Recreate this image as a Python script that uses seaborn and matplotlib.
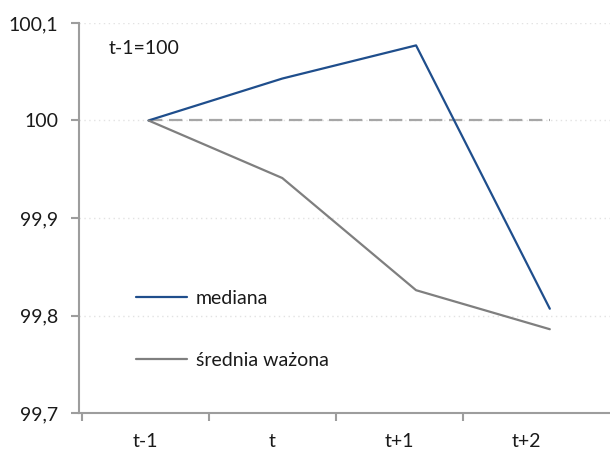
import matplotlib
matplotlib.use("Agg")
import matplotlib.pyplot as plt
import seaborn as sns
import pandas as pd

# Okresy i wartości indeksu (t-1 = 100)
periods = ["t-1", "t", "t+1", "t+2"]
mediana = [100.0, 100.043, 100.077, 99.807]
srednia_wazona = [100.0, 99.941, 99.826, 99.786]
baseline = [100.0, 100.0, 100.0, 100.0]
y_ticks = [99.7, 99.8, 99.9, 100.0, 100.1]
y_tick_labels = ["99,7", "99,8", "99,9", "100", "100,1"]

sns.set_theme(style="white")
plt.rcParams["font.family"] = ["Lato", "DejaVu Sans"]

blue = "#1f4e8c"
grey = "#7f7f7f"
dash_grey = "#a6a6a6"
spine_grey = "#9d9d9d"
text_col = "#1a1a1a"
fs = 14

fig = plt.figure(figsize=(6.1, 4.5), dpi=100)
ax = fig.add_axes([0.1295, 0.082, 0.8705, 0.867])

# kategoria na osi X: etykiety pośrodku, znaczniki na granicach
ax.set_xlim(-0.52, 3.66)
ax.set_xticks(range(len(periods)))
ax.set_xticklabels(periods)
ax.set_xticks([-0.5, 0.5, 1.5, 2.5], minor=True)
ax.tick_params(axis="x", which="major", length=0, pad=14, labelsize=fs, labelcolor=text_col)
ax.tick_params(axis="x", which="minor", length=6, width=1.5, color=spine_grey, direction="out", bottom=True)

ax.set_ylim(99.7, 100.1)
ax.set_yticks(y_ticks)
ax.set_yticklabels(y_tick_labels)
ax.tick_params(axis="y", length=6, width=1.5, color=spine_grey, direction="out", left=True,
               labelsize=fs, labelcolor=text_col, pad=9)
ax.yaxis.grid(True, linestyle=(0, (1, 2.5)), color="#e2e2e2", linewidth=1.0)
ax.set_axisbelow(True)

for side in ["top", "right"]:
    ax.spines[side].set_visible(False)
for side in ["left", "bottom"]:
    ax.spines[side].set_color(spine_grey)
    ax.spines[side].set_linewidth(1.5)

# osobna skala X dla linii
ax2 = ax.twiny()
ax2.set_xlim(-0.52, 3.45)
ax2.set_ylim(99.7, 100.1)
ax2.axis("off")

df = pd.DataFrame({"x": range(len(periods)), "mediana": mediana,
                   "srednia": srednia_wazona, "base": baseline})

sns.lineplot(data=df, x="x", y="base", ax=ax2, color=dash_grey, linewidth=1.6,
             linestyle=(0, (6, 3)), legend=False)
sns.lineplot(data=df, x="x", y="mediana", ax=ax2, color=blue, linewidth=1.6,
             label="mediana")
sns.lineplot(data=df, x="x", y="srednia", ax=ax2, color=grey, linewidth=1.6,
             label="średnia ważona")

handles, labels = ax2.get_legend_handles_labels()
ax2.legend(handles, labels, loc="upper left", bbox_to_anchor=(0.075, 0.36),
           frameon=False, fontsize=fs, labelspacing=2.3, handlelength=2.6,
           handletextpad=0.45, labelcolor=text_col)

ax.text(0.055, 0.935, "t-1=100", transform=ax.transAxes, fontsize=fs,
        color=text_col, va="center", ha="left")

fig.savefig("out.png", dpi=100)
